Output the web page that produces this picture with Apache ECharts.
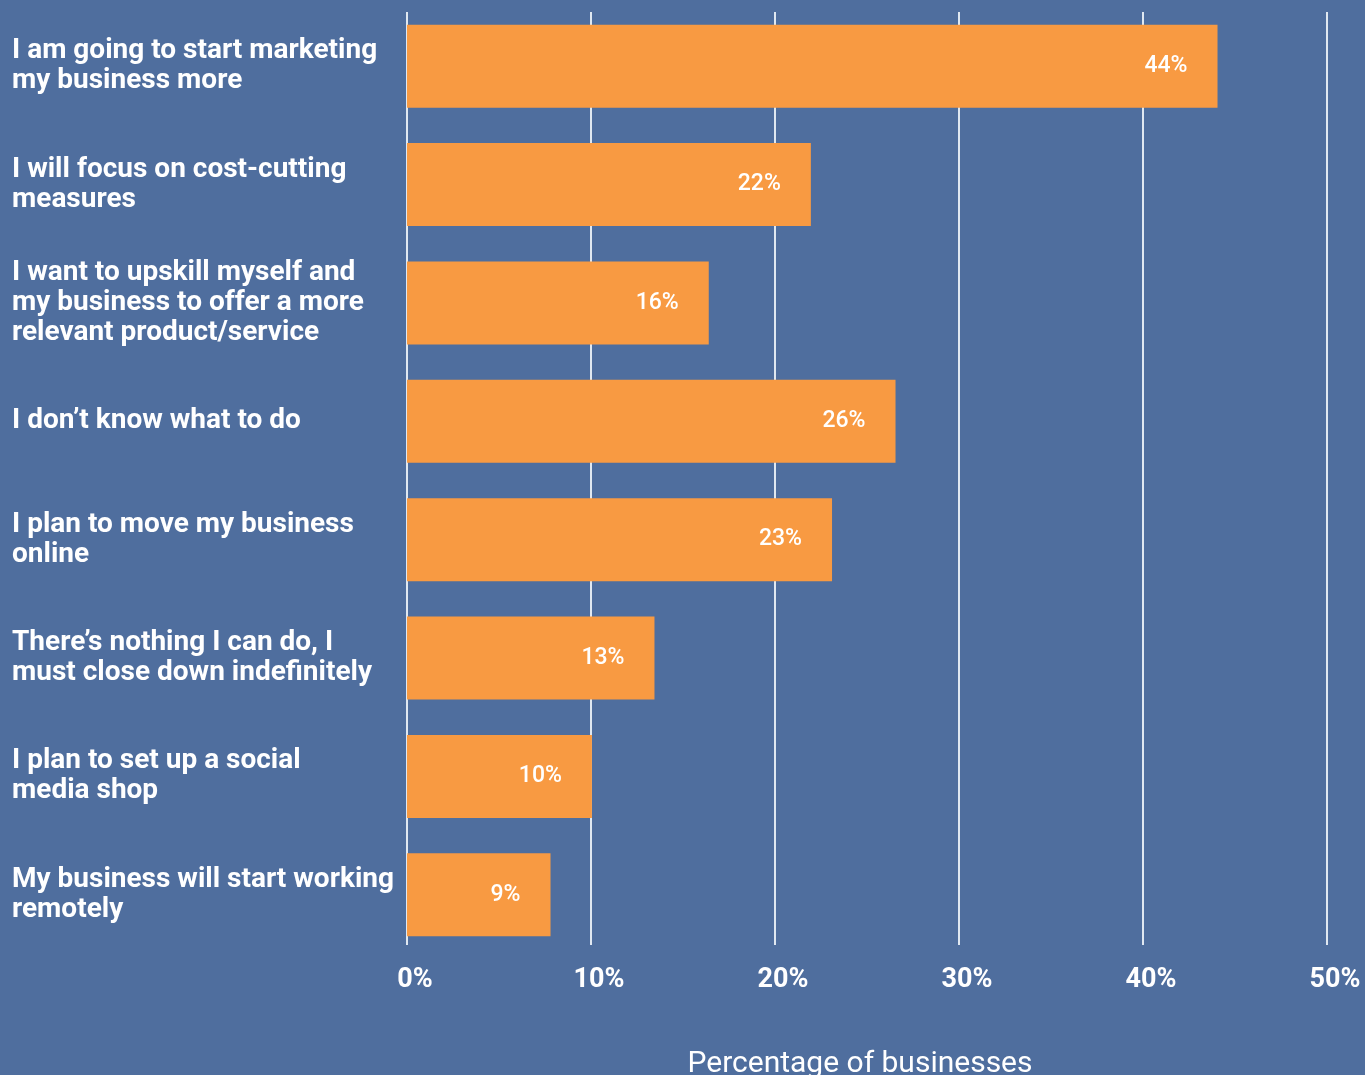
<!DOCTYPE html>
<html>
<head>
<meta charset="utf-8">
<script src="https://cdn.jsdelivr.net/npm/echarts@6/dist/echarts.min.js"></script>
<style>
html,body{margin:0;padding:0;background:#4f6e9e;}
#chart{width:1365px;height:1075px;}
</style>
</head>
<body>
<div id="chart"></div>
<script>
const categories = [
  "I am going to start marketing\nmy business more",
  "I will focus on cost-cutting\nmeasures",
  "I want to upskill myself and\nmy business to offer a more\nrelevant product/service",
  "I don\u2019t know what to do",
  "I plan to move my business\nonline",
  "There\u2019s nothing I can do, I\nmust close down indefinitely",
  "I plan to set up a social\nmedia shop",
  "My business will start working\nremotely"
];
const barValues = [44.05, 21.95, 16.4, 26.55, 23.1, 13.45, 10.05, 7.8];
const barLabels = ["44%", "22%", "16%", "26%", "23%", "13%", "10%", "9%"];
const xTicks = [0, 10, 20, 30, 40, 50];
const axisTitle = "Percentage of businesses";

const chart = echarts.init(document.getElementById('chart'), null, {renderer: 'canvas'});
const FONT = 'Roboto';
chart.setOption({
  backgroundColor: '#4f6e9e',
  animation: false,
  grid: [
    {left: 407, right: 38, top: 7, height: 947, containLabel: false, outerBoundsMode: 'none'},
    {left: 407, right: 38, top: 12, height: 933, containLabel: false, outerBoundsMode: 'none'}
  ],
  xAxis: [
    {gridIndex: 0, type: 'value', min: 0, max: 50, interval: 10, show: false},
    {gridIndex: 1, type: 'value', min: xTicks[0], max: xTicks[xTicks.length-1], interval: 10,
     axisLine: {show: false}, axisTick: {show: false},
     splitLine: {show: true, lineStyle: {color: 'rgba(240,245,250,0.9)', width: 2}},
     axisLabel: {color: '#ffffff', fontFamily: FONT, fontWeight: 'bold', fontSize: 27,
       margin: 22, padding: [0, 0, 0, 16], formatter: v => v + '%'},
     name: axisTitle, nameLocation: 'middle', nameGap: 104,
     nameTextStyle: {color: '#ffffff', fontFamily: FONT, fontSize: 30, fontWeight: 'normal',
       padding: [0, 14, 0, 0]}
    }
  ],
  yAxis: [
    {gridIndex: 0, type: 'category', data: categories, inverse: true,
     axisLine: {show: false}, axisTick: {show: false}, splitLine: {show: false},
     axisLabel: {color: '#ffffff', fontFamily: FONT, fontWeight: 'bold', fontSize: 28,
       lineHeight: 30, align: 'left', margin: 395}
    },
    {gridIndex: 1, type: 'value', min: 0, max: 1, show: false}
  ],
  series: [{
    type: 'bar', xAxisIndex: 0, yAxisIndex: 0,
    data: barValues, barWidth: 83,
    itemStyle: {color: '#f89a42'},
    label: {show: true, position: 'insideRight', distance: 30,
      color: '#ffffff', fontFamily: FONT, fontWeight: 500, fontSize: 23,
      formatter: p => barLabels[p.dataIndex]}
  }]
});
</script>
</body>
</html>
